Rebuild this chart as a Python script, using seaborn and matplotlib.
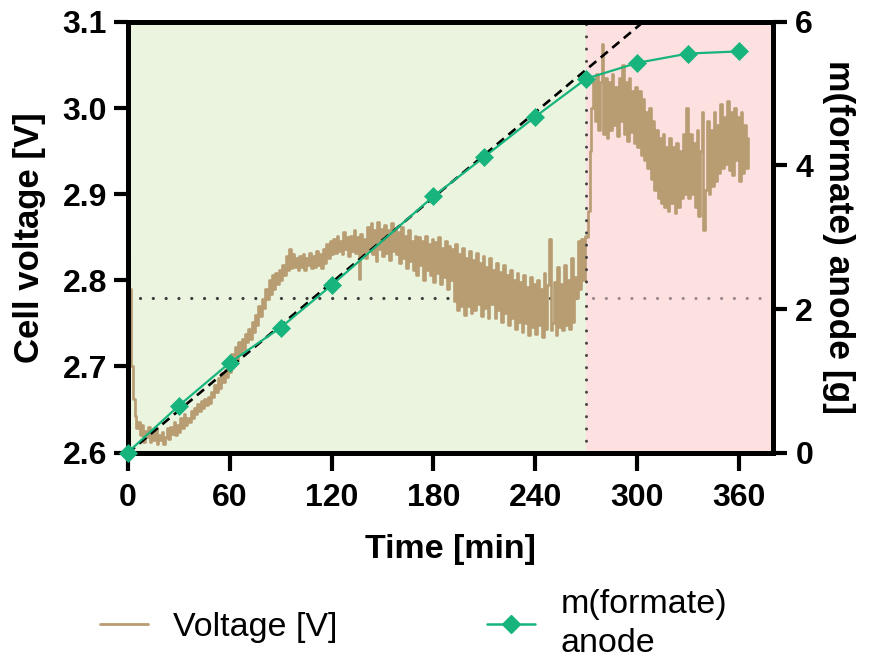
import numpy as np
import pandas as pd
import matplotlib
matplotlib.use("Agg")
import matplotlib.pyplot as plt
import seaborn as sns
from matplotlib.lines import Line2D

# ---------------- data ----------------
# cell voltage [V], one reading per minute from t = 0 min
voltage_values = [
    2.828, 2.790, 2.700, 2.662, 2.642, 2.628, 2.635, 2.620, 2.632, 2.612,
    2.625, 2.618, 2.630, 2.612, 2.622, 2.615, 2.628, 2.610, 2.620, 2.614,
    2.624, 2.610, 2.618, 2.628, 2.616, 2.630, 2.622, 2.636, 2.620, 2.632,
    2.624, 2.640, 2.628, 2.645, 2.632, 2.640, 2.636, 2.648, 2.640, 2.652,
    2.645, 2.656, 2.648, 2.660, 2.652, 2.662, 2.655, 2.664, 2.658, 2.670,
    2.665, 2.678, 2.670, 2.686, 2.675, 2.692, 2.682, 2.696, 2.688, 2.704,
    2.694, 2.714, 2.702, 2.722, 2.708, 2.728, 2.714, 2.732, 2.720, 2.738,
    2.728, 2.744, 2.732, 2.752, 2.740, 2.760, 2.748, 2.770, 2.758, 2.778,
    2.768, 2.790, 2.778, 2.800, 2.784, 2.806, 2.790, 2.808, 2.796, 2.812,
    2.800, 2.818, 2.806, 2.828, 2.812, 2.836, 2.814, 2.830, 2.816, 2.826,
    2.812, 2.828, 2.815, 2.830, 2.812, 2.826, 2.818, 2.832, 2.814, 2.828,
    2.816, 2.834, 2.818, 2.830, 2.814, 2.836, 2.820, 2.842, 2.826, 2.846,
    2.830, 2.848, 2.832, 2.852, 2.834, 2.846, 2.830, 2.856, 2.836, 2.850,
    2.828, 2.852, 2.834, 2.858, 2.832, 2.850, 2.802, 2.854, 2.830, 2.848,
    2.826, 2.862, 2.834, 2.866, 2.830, 2.858, 2.822, 2.868, 2.836, 2.860,
    2.828, 2.864, 2.832, 2.858, 2.824, 2.866, 2.834, 2.860, 2.830, 2.856,
    2.820, 2.862, 2.826, 2.852, 2.814, 2.858, 2.822, 2.846, 2.812, 2.852,
    2.806, 2.850, 2.818, 2.846, 2.800, 2.852, 2.812, 2.842, 2.806, 2.848,
    2.798, 2.844, 2.808, 2.850, 2.796, 2.838, 2.804, 2.846, 2.790, 2.840,
    2.800, 2.836, 2.776, 2.842, 2.766, 2.830, 2.770, 2.838, 2.760, 2.826,
    2.770, 2.834, 2.762, 2.824, 2.766, 2.832, 2.772, 2.820, 2.758, 2.828,
    2.768, 2.816, 2.756, 2.826, 2.772, 2.812, 2.756, 2.820, 2.766, 2.810,
    2.752, 2.818, 2.762, 2.806, 2.748, 2.812, 2.756, 2.800, 2.744, 2.808,
    2.752, 2.798, 2.740, 2.806, 2.750, 2.792, 2.736, 2.804, 2.746, 2.796,
    2.738, 2.800, 2.748, 2.790, 2.734, 2.808, 2.744, 2.794, 2.848, 2.742,
    2.750, 2.798, 2.736, 2.816, 2.746, 2.796, 2.742, 2.818, 2.748, 2.800,
    2.744, 2.826, 2.752, 2.804, 2.780, 2.846, 2.790, 2.848, 2.800, 2.852,
    2.850, 2.880, 2.950, 3.000, 3.030, 2.985, 3.040, 2.975, 3.030, 3.075,
    2.970, 3.035, 2.965, 3.030, 2.975, 3.040, 2.980, 3.025, 2.968, 3.035,
    2.985, 3.050, 2.970, 3.030, 2.962, 3.035, 2.972, 3.020, 2.960, 3.025,
    2.955, 3.020, 2.945, 3.010, 2.940, 2.995, 2.930, 3.000, 2.918, 2.985,
    2.905, 2.975, 2.895, 2.965, 2.890, 2.970, 2.885, 2.955, 2.880, 2.965,
    2.890, 2.955, 2.878, 2.960, 2.885, 2.950, 2.895, 2.970, 2.900, 3.000,
    2.895, 2.970, 2.900, 2.960, 2.885, 2.975, 2.875, 2.950, 2.995, 2.858,
    2.905, 2.985, 2.900, 2.975, 2.910, 2.995, 2.915, 2.980, 2.925, 3.005,
    2.930, 2.990, 2.935, 3.008, 2.928, 2.995, 2.922, 3.000, 2.940, 2.990,
    2.915, 2.995, 2.925, 2.980, 2.930, 2.965,
]
voltage_time = list(range(len(voltage_values)))  # min

formate_time = [0, 30, 60, 90, 120, 180, 210, 240, 270, 300, 330, 360]
formate_mass = [0.0, 0.65, 1.25, 1.74, 2.33, 3.57, 4.12, 4.68, 5.21, 5.43, 5.56, 5.59]

fit_slope = 0.0198       # g/min, linear fit of the first phase
fit_intercept = -0.01
fit_range = [0, 380]

phase_switch = 270       # min
ref_voltage = 2.78       # V
ref_line_range = [7, 374]

x_limits = [0, 380]
x_ticks = [0, 60, 120, 180, 240, 300, 360]
y_left_limits = [2.6, 3.1]
y_left_ticks = [2.6, 2.7, 2.8, 2.9, 3.0, 3.1]
y_left_ticklabels = ["2.6", "2.7", "2.8", "2.9", "3.0", "3.1"]
y_right_limits = [0, 6]
y_right_ticks = [0, 2, 4, 6]

# ---------------- style ----------------
TAN = "#B89C72"
GREEN = "#18B47D"
BG_GREEN = "#EAF4DE"
BG_RED = "#FDE1E1"

sns.set_style("ticks")
plt.rcParams["font.family"] = ["Liberation Sans", "DejaVu Sans"]
plt.rcParams["font.weight"] = "bold"
plt.rcParams["axes.labelweight"] = "bold"
for key in ("text.color", "axes.labelcolor", "xtick.color", "ytick.color",
            "axes.edgecolor"):
    plt.rcParams[key] = "black"

fig = plt.figure(figsize=(8.73, 6.64), dpi=100)
ax = fig.add_axes([0.1463, 0.3185, 0.8855 - 0.1463, 0.9669 - 0.3185])

ax.axvspan(x_limits[0], phase_switch, color=BG_GREEN, lw=0, zorder=0)
ax.axvspan(phase_switch, x_limits[1], color=BG_RED, lw=0, zorder=0)

# reference voltage dotted line (dark in first phase, light in second)
ax.hlines(ref_voltage, ref_line_range[0], phase_switch, colors="#3c3c3c",
          lw=2.3, linestyles=(0, (0.01, 4.0)), zorder=1, capstyle="round")
ax.hlines(ref_voltage, phase_switch + 4, ref_line_range[1], colors="#9a8a8e",
          lw=2.3, linestyles=(0, (0.01, 4.0)), zorder=1, capstyle="round")

vdf = pd.DataFrame({"t": voltage_time, "v": voltage_values})
sns.lineplot(data=vdf, x="t", y="v", ax=ax, color=TAN, lw=1.9,
             drawstyle="steps-post", estimator=None, errorbar=None,
             legend=False, zorder=2)

ax.set_xlim(*x_limits)
ax.set_ylim(*y_left_limits)
ax.set_xticks(x_ticks)
ax.set_xticklabels([str(v) for v in x_ticks])
ax.set_yticks(y_left_ticks)
ax.set_yticklabels(y_left_ticklabels)
ax.set_xlabel("Time [min]", fontsize=24.5, labelpad=15)
ax.set_ylabel("Cell voltage [V]", fontsize=25, labelpad=12)

ax2 = ax.twinx()
ax2.axvline(phase_switch, color="#454545", lw=2.2, ls=(0, (0.01, 4.0)),
            dash_capstyle="round", zorder=1)

fit_x = np.array(fit_range, dtype=float)
fdf_fit = pd.DataFrame({"t": fit_x, "m": fit_slope * fit_x + fit_intercept})
sns.lineplot(data=fdf_fit, x="t", y="m", ax=ax2, color="black", lw=1.9,
             ls=(0, (3.5, 2.2)), estimator=None, errorbar=None, legend=False,
             zorder=2)

fdf = pd.DataFrame({"t": formate_time, "m": formate_mass})
sns.lineplot(data=fdf, x="t", y="m", ax=ax2, color=GREEN, lw=1.6,
             marker="D", markersize=9, markeredgewidth=0.5,
             markeredgecolor=GREEN, estimator=None, errorbar=None,
             legend=False, zorder=3, clip_on=False)

ax2.set_ylim(*y_right_limits)
ax2.set_yticks(y_right_ticks)
ax2.set_yticklabels([str(v) for v in y_right_ticks])
ax2.set_ylabel("m(formate) anode [g]", fontsize=25.5, rotation=270,
               labelpad=30)

for a in (ax, ax2):
    for s in a.spines.values():
        s.set_visible(True)
        s.set_linewidth(3.5)
        s.set_color("black")
ax.tick_params(axis="x", length=13, width=3, pad=9, labelsize=23)
ax.tick_params(axis="y", length=10, width=3, pad=5, labelsize=23)
ax2.tick_params(axis="y", length=10, width=3, pad=6, labelsize=23)

handles = [
    Line2D([], [], color=TAN, lw=2),
    Line2D([], [], color=GREEN, lw=1.8, marker="D", markersize=9),
]
labels = ["Voltage [V]", "m(formate)\nanode"]
leg = fig.legend(handles, labels, loc="center left",
                 bbox_to_anchor=(100 / 873, 40 / 664), ncol=2, frameon=False,
                 borderpad=0, borderaxespad=0, handlelength=1.4,
                 handletextpad=0.75, columnspacing=4.4,
                 prop={"size": 24.5, "weight": "normal"})
leg.get_texts()[1].set_linespacing(1.35)

fig.savefig("out.png", dpi=100)
